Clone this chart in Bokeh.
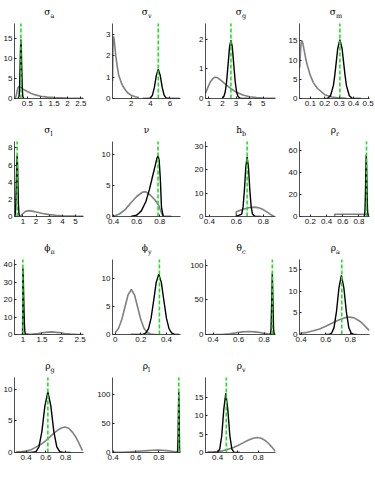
from bokeh.plotting import figure
from bokeh.layouts import gridplot
from bokeh.models import Range1d, FixedTicker
from bokeh.core.properties import value
from bokeh.embed import file_html
from bokeh.resources import INLINE

# ---------------- data ----------------
# sigma_a
sa_prior_x = [0.03, 0.08, 0.12, 0.15, 0.18, 0.22, 0.27, 0.33, 0.4, 0.5, 0.65, 0.8, 1.0, 1.25, 1.5, 2.0, 2.6]
sa_prior_y = [0.0, 0.6, 1.9, 2.7, 3.0, 2.95, 2.7, 2.4, 2.1, 1.75, 1.25, 0.9, 0.55, 0.35, 0.22, 0.1, 0.05]
sa_post_x = [0.15, 0.19, 0.21, 0.23, 0.245, 0.26, 0.275, 0.29, 0.31, 0.33, 0.37]
sa_post_y = [0, 0.5, 2.6, 7.9, 12.6, 14.7, 12.6, 7.9, 2.6, 0.5, 0]
sa_mode = 0.26
# sigma_v
sv_prior_x = [0.07, 0.1, 0.15, 0.22, 0.3, 0.4, 0.55, 0.7, 1.0, 1.3, 1.6, 2.0, 2.4, 2.8]
sv_prior_y = [0.8, 2.3, 2.9, 2.8, 2.45, 2.0, 1.5, 1.1, 0.7, 0.45, 0.28, 0.15, 0.08, 0.05]
sv_post_x = [3.2, 3.8, 4.0, 4.2, 4.4, 4.6, 4.8, 5.0, 5.2, 5.4, 5.6, 6.0, 6.5, 7.0]
sv_post_y = [0, 0.01, 0.03, 0.16, 0.53, 1.08, 1.37, 1.08, 0.53, 0.16, 0.03, 0.0, 0, 0]
sv_mode = 4.8
# sigma_g
sg_prior_x = [0.75, 0.9, 1.1, 1.3, 1.45, 1.6, 1.8, 2.0, 2.3, 2.6, 3.0, 3.5, 4.0, 4.5, 5.0, 5.9]
sg_prior_y = [0.17, 0.35, 0.56, 0.68, 0.72, 0.71, 0.65, 0.57, 0.45, 0.34, 0.22, 0.12, 0.06, 0.03, 0.015, 0.005]
sg_post_x = [2.0, 2.1, 2.2, 2.3, 2.42, 2.52, 2.62, 2.72, 2.82, 2.94, 3.04, 3.14, 3.3, 3.6, 4.0]
sg_post_y = [0.016, 0.07, 0.22, 0.55, 1.2, 1.75, 1.98, 1.75, 1.2, 0.55, 0.22, 0.07, 0.01, 0, 0]
sg_mode = 2.62
# sigma_m
sm_prior_x = [0.027, 0.03, 0.035, 0.04, 0.045, 0.05, 0.06, 0.07, 0.08, 0.1, 0.12, 0.15, 0.2, 0.25, 0.3, 0.35]
sm_prior_y = [8, 11, 14, 15, 14.8, 14, 12, 10, 8.5, 6, 4.2, 2.6, 1.0, 0.4, 0.15, 0.05]
sm_post_x = [0.2, 0.22, 0.24, 0.26, 0.27, 0.28, 0.29, 0.305, 0.32, 0.33, 0.34, 0.35, 0.37, 0.39, 0.45]
sm_post_y = [0, 0.08, 0.7, 3.4, 6.2, 9.6, 13, 15.3, 13, 9.6, 6.2, 3.4, 0.7, 0.08, 0]
sm_mode = 0.305
# sigma_l
sl_prior_x = [0.7, 0.85, 1.0, 1.2, 1.4, 1.6, 1.8, 2.0, 2.5, 3.0, 3.5, 4.0, 5.0, 5.6]
sl_prior_y = [0, 0.1, 0.35, 0.6, 0.68, 0.66, 0.6, 0.52, 0.35, 0.22, 0.14, 0.09, 0.04, 0.03]
sl_post_x = [0.38, 0.42, 0.46, 0.5, 0.53, 0.56, 0.59, 0.62, 0.66, 0.70, 0.74]
sl_post_y = [0, 0.3, 1.4, 4.0, 6.2, 7.1, 6.2, 4.0, 1.4, 0.3, 0]
sl_mode = 0.56
# nu
nu_prior_x = [0.4, 0.45, 0.5, 0.55, 0.6, 0.65, 0.68, 0.72, 0.76, 0.79, 0.81, 0.83]
nu_prior_y = [0.05, 0.4, 1.1, 2.2, 3.2, 3.9, 3.95, 3.4, 2.6, 1.8, 0.8, 0]
nu_post_x = [0.55, 0.6, 0.64, 0.68, 0.71, 0.74, 0.76, 0.775, 0.785, 0.795, 0.805, 0.815, 0.83, 0.9]
nu_post_y = [0, 0.2, 0.9, 2.4, 4.3, 6.6, 8.1, 9.3, 9.7, 9.0, 6.0, 1.5, 0, 0]
nu_mode = 0.785
# h_b
hb_prior_x = [0.6, 0.6, 0.63, 0.67, 0.7, 0.73, 0.76, 0.79, 0.82, 0.85, 0.88]
hb_prior_y = [0, 2.0, 2.7, 3.4, 3.85, 4.0, 3.8, 3.2, 2.2, 1.0, 0]
hb_post_x = [0.6, 0.64, 0.65, 0.66, 0.67, 0.68, 0.69, 0.70, 0.71, 0.72, 0.74, 0.78]
hb_post_y = [0, 1.0, 4.1, 11.3, 20.9, 25.5, 20.9, 11.3, 4.1, 1.0, 0.03, 0]
hb_mode = 0.68
# rho_r
rr_prior_x = [0.5, 0.5, 0.93]
rr_prior_y = [0, 2, 2]
rr_post_x = [0.86, 0.87, 0.875, 0.88, 0.885, 0.89, 0.895, 0.9, 0.905, 0.91, 0.92]
rr_post_y = [0, 1.4, 7, 21.7, 43, 56, 43, 21.7, 7, 1.4, 0]
rr_mode = 0.893
# phi_pi
fp_prior_x = [0.95, 1.1, 1.25, 1.4, 1.55, 1.75, 1.95, 2.1, 2.25, 2.4, 2.59]
fp_prior_y = [0.01, 0.05, 0.2, 0.56, 1.1, 1.5, 1.1, 0.56, 0.2, 0.05, 0.005]
fp_post_x = [0.992, 1.0, 1.01, 1.02, 1.03, 1.04, 1.05, 1.06, 1.08, 1.15]
fp_post_y = [0, 38, 33.5, 23, 13, 6, 2.2, 0.6, 0, 0]
fp_mode = 1.0
# phi_y
fy_prior_x = [0.0, 0.025, 0.05, 0.075, 0.1, 0.125, 0.15, 0.175, 0.2, 0.225, 0.25, 0.275, 0.3, 0.33]
fy_prior_y = [0.35, 1.08, 2.6, 4.84, 7.04, 7.98, 7.04, 4.84, 2.6, 1.08, 0.35, 0.09, 0.02, 0]
fy_post_x = [0.12, 0.22, 0.24, 0.26, 0.28, 0.30, 0.32, 0.34, 0.36, 0.38, 0.40, 0.42, 0.44, 0.46, 0.5]
fy_post_y = [0, 0.05, 0.28, 1.03, 2.9, 6.0, 9.25, 10.7, 9.25, 6.0, 2.9, 1.03, 0.28, 0.05, 0]
fy_mode = 0.345
# theta_c
tc_prior_x = [0.36, 0.43, 0.48, 0.53, 0.58, 0.63, 0.68, 0.73, 0.78, 0.83, 0.86, 0.89]
tc_prior_y = [0.01, 0.09, 0.37, 1.1, 2.4, 3.8, 4.4, 3.8, 2.4, 1.1, 0.6, 0.29]
tc_post_x = [0.845, 0.85, 0.855, 0.86, 0.865, 0.87, 0.875, 0.88, 0.885]
tc_post_y = [0, 0.36, 7.5, 47, 88, 47, 7.5, 0.36, 0]
tc_mode = 0.865
# rho_a
ra_prior_x = [0.39, 0.45, 0.5, 0.55, 0.6, 0.65, 0.7, 0.75, 0.79, 0.83, 0.87, 0.9, 0.93, 0.955]
ra_prior_y = [0.3, 0.5, 0.85, 1.3, 1.9, 2.6, 3.3, 3.85, 4.05, 3.85, 3.2, 2.5, 1.6, 0.9]
ra_post_x = [0.6, 0.627, 0.647, 0.667, 0.687, 0.707, 0.727, 0.747, 0.767, 0.787, 0.807, 0.827, 0.85]
ra_post_y = [0, 0.04, 0.3, 1.6, 5.3, 10.8, 13.7, 10.8, 5.3, 1.6, 0.3, 0.04, 0]
ra_mode = 0.73
# rho_g
rg_prior_x = [0.3, 0.35, 0.4, 0.45, 0.5, 0.55, 0.6, 0.65, 0.7, 0.75, 0.79, 0.83, 0.87, 0.9, 0.93, 0.96, 0.97]
rg_prior_y = [0.05, 0.12, 0.25, 0.45, 0.85, 1.3, 1.9, 2.6, 3.3, 3.85, 4.05, 3.85, 3.2, 2.5, 1.6, 0.6, 0.3]
rg_post_x = [0.3, 0.45, 0.5, 0.53, 0.56, 0.59, 0.62, 0.65, 0.68, 0.71, 0.74, 0.78, 0.85]
rg_post_y = [0, 0, 0.14, 0.91, 3.36, 7.4, 9.6, 7.4, 3.36, 0.91, 0.14, 0.01, 0]
rg_mode = 0.62
# rho_l
rl_prior_x = [0.4, 0.45, 0.5, 0.55, 0.6, 0.65, 0.7, 0.75, 0.79, 0.83, 0.87, 0.9, 0.93, 0.96]
rl_prior_y = [0.2, 0.45, 0.85, 1.3, 1.9, 2.6, 3.3, 3.85, 4.05, 3.85, 3.2, 2.5, 1.6, 0.6]
rl_post_x = [0.96, 0.963, 0.966, 0.969, 0.972, 0.975, 0.978, 0.981, 0.984, 0.987, 0.99]
rl_post_y = [0, 0.7, 6.3, 30, 77, 105, 77, 30, 6.3, 0.7, 0]
rl_mode = 0.975
# rho_v
rv_prior_x = [0.3, 0.35, 0.4, 0.45, 0.5, 0.55, 0.6, 0.65, 0.7, 0.75, 0.79, 0.83, 0.87, 0.9, 0.93, 0.96, 0.97]
rv_prior_y = [0.05, 0.12, 0.25, 0.45, 0.85, 1.3, 1.9, 2.6, 3.3, 3.85, 4.05, 3.85, 3.2, 2.5, 1.6, 0.6, 0.3]
rv_post_x = [0.3, 0.38, 0.40, 0.42, 0.44, 0.46, 0.48, 0.50, 0.52, 0.54, 0.56, 0.58, 0.62]
rv_post_y = [0, 0.02, 0.1, 0.9, 4.5, 11.6, 16, 11.6, 4.5, 0.9, 0.1, 0.02, 0]
rv_mode = 0.485

# panel titles (letter, subscript)
titles = [("σ", "a"), ("σ", "v"), ("σ", "g"), ("σ", "m"),
          ("σ", "l"), ("ν", ""), ("h", "b"), ("ρ", "r"),
          ("ϕ", "π"), ("ϕ", "y"), ("θ", "c"), ("ρ", "a"),
          ("ρ", "g"), ("ρ", "l"), ("ρ", "v")]

# tick values and labels
x_ticks = [[0.5, 1, 1.5, 2, 2.5], [2, 4, 6], [1, 2, 3, 4, 5], [0.1, 0.2, 0.3, 0.4, 0.5],
           [1, 2, 3, 4, 5], [0.4, 0.6, 0.8], [0.4, 0.6, 0.8], [0.2, 0.4, 0.6, 0.8],
           [1, 1.5, 2, 2.5], [0, 0.2, 0.4], [0.4, 0.6, 0.8], [0.4, 0.6, 0.8],
           [0.4, 0.6, 0.8], [0.4, 0.6, 0.8], [0.4, 0.6, 0.8]]
x_tick_labels = [["0.5", "1", "1.5", "2", "2.5"], ["2", "4", "6"], ["1", "2", "3", "4", "5"],
                 ["0.1", "0.2", "0.3", "0.4", "0.5"], ["1", "2", "3", "4", "5"],
                 ["0.4", "0.6", "0.8"], ["0.4", "0.6", "0.8"], ["0.2", "0.4", "0.6", "0.8"],
                 ["1", "1.5", "2", "2.5"], ["0", "0.2", "0.4"], ["0.4", "0.6", "0.8"],
                 ["0.4", "0.6", "0.8"], ["0.4", "0.6", "0.8"], ["0.4", "0.6", "0.8"],
                 ["0.4", "0.6", "0.8"]]
y_ticks = [[0, 5, 10, 15], [0, 1, 2, 3], [0, 1, 2], [0, 5, 10, 15],
           [0, 2, 4, 6, 8], [0, 5, 10], [0, 10, 20, 30], [0, 20, 40, 60],
           [0, 10, 20, 30, 40], [0, 5, 10], [0, 50, 100], [0, 5, 10, 15],
           [0, 5, 10], [0, 50, 100], [0, 5, 10, 15]]

# axis limits
x_limits = [(0.02, 2.6), (0.06, 7.1), (0.75, 5.9), (0.025, 0.51),
            (0.36, 5.6), (0.39, 0.98), (0.372, 0.89), (0.065, 0.93),
            (0.78, 2.59), (-0.022, 0.51), (0.34, 0.89), (0.387, 0.955),
            (0.283, 0.98), (0.395, 0.99), (0.28, 0.97)]
y_limits = [18.7, 3.5, 2.54, 19.5, 8.75, 12, 32, 68, 43, 13.3, 108, 17.4, 11.9, 130, 20.3]

priors = [(sa_prior_x, sa_prior_y), (sv_prior_x, sv_prior_y), (sg_prior_x, sg_prior_y), (sm_prior_x, sm_prior_y),
          (sl_prior_x, sl_prior_y), (nu_prior_x, nu_prior_y), (hb_prior_x, hb_prior_y), (rr_prior_x, rr_prior_y),
          (fp_prior_x, fp_prior_y), (fy_prior_x, fy_prior_y), (tc_prior_x, tc_prior_y), (ra_prior_x, ra_prior_y),
          (rg_prior_x, rg_prior_y), (rl_prior_x, rl_prior_y), (rv_prior_x, rv_prior_y)]
posts = [(sa_post_x, sa_post_y), (sv_post_x, sv_post_y), (sg_post_x, sg_post_y), (sm_post_x, sm_post_y),
         (sl_post_x, sl_post_y), (nu_post_x, nu_post_y), (hb_post_x, hb_post_y), (rr_post_x, rr_post_y),
         (fp_post_x, fp_post_y), (fy_post_x, fy_post_y), (tc_post_x, tc_post_y), (ra_post_x, ra_post_y),
         (rg_post_x, rg_post_y), (rl_post_x, rl_post_y), (rv_post_x, rv_post_y)]
modes = [sa_mode, sv_mode, sg_mode, sm_mode, sl_mode, nu_mode, hb_mode, rr_mode,
         fp_mode, fy_mode, tc_mode, ra_mode, rg_mode, rl_mode, rv_mode]

# ---------------- layout ----------------
col_w = [94, 93, 98, 90]
col_left = [11, 12, 14, 13]
col_right = [11, 7, 10, 6]
row_h = [118, 118, 118, 123]
row_bottom = [20, 20, 20, 25]
TOP = 3          # frame starts near the top; title lives inside the upper band
AXES_PX = 75     # height of the data area (0 .. ymax)
TITLE_PX = 20    # band above the data area for the title

TICK_FONT = "Liberation Sans"
TITLE_FONT = "DejaVu Serif"


def make_panel(i):
    r, c = divmod(i, 4)
    x0, x1 = x_limits[i]
    ytop = y_limits[i]
    letter, sub = titles[i]
    yend = ytop * (AXES_PX + TITLE_PX) / AXES_PX
    p = figure(width=col_w[c], height=row_h[r], output_backend="svg", toolbar_location=None,
               x_range=Range1d(x0, x1), y_range=Range1d(0, yend),
               min_border_left=col_left[c], min_border_right=col_right[c],
               min_border_top=TOP, min_border_bottom=row_bottom[r])
    p.outline_line_color = None
    p.xgrid.visible = False
    p.ygrid.visible = False
    p.background_fill_color = "white"
    p.border_fill_color = "white"
    for ax in (p.xaxis[0], p.yaxis[0]):
        ax.axis_line_color = "#222222"
        ax.axis_line_width = 0.8
        ax.major_tick_in = 2
        ax.major_tick_out = 0
        ax.major_tick_line_color = "#222222"
        ax.minor_tick_line_color = None
        ax.major_label_text_font = TICK_FONT
        ax.major_label_text_font_size = "8px"
        ax.major_label_text_color = "#111111"
        ax.major_label_standoff = 2
    p.yaxis.bounds = (0, ytop)
    p.xaxis.ticker = FixedTicker(ticks=x_ticks[i])
    p.xaxis.major_label_overrides = {t: s for t, s in zip(x_ticks[i], x_tick_labels[i])}
    p.yaxis.ticker = FixedTicker(ticks=y_ticks[i])
    p.yaxis.major_label_overrides = {t: str(t) for t in y_ticks[i]}

    px, py = priors[i]
    qx, qy = posts[i]
    p.line(px, py, line_color="#808080", line_width=1.6)
    p.line(qx, qy, line_color="black", line_width=1.4)
    p.segment(x0=[modes[i]], y0=[0], x1=[modes[i]], y1=[ytop], line_color="#22dd22",
              line_width=1.6, line_dash="4 2")

    xc = (x0 + x1) / 2
    if sub:
        p.text(x=[xc], y=[ytop], text=[letter], text_align="right", text_baseline="alphabetic",
               x_offset=1.5, y_offset=-12, text_font=value(TITLE_FONT),
               text_font_size=value("9px"), text_color="black")
        p.text(x=[xc], y=[ytop], text=[sub], text_align="left", text_baseline="alphabetic",
               x_offset=1.5, y_offset=-7.5, text_font=value(TITLE_FONT),
               text_font_size=value("6.5px"), text_color="black")
    else:
        p.text(x=[xc], y=[ytop], text=[letter], text_align="center", text_baseline="alphabetic",
               y_offset=-12, text_font=value(TITLE_FONT),
               text_font_size=value("9px"), text_color="black")
    return p


panels = [make_panel(i) for i in range(15)]
rows = [panels[0:4], panels[4:8], panels[8:12], panels[12:15] + [None]]
grid = gridplot(rows, toolbar_location=None)

open("out.html", "w").write(file_html(grid, INLINE))
